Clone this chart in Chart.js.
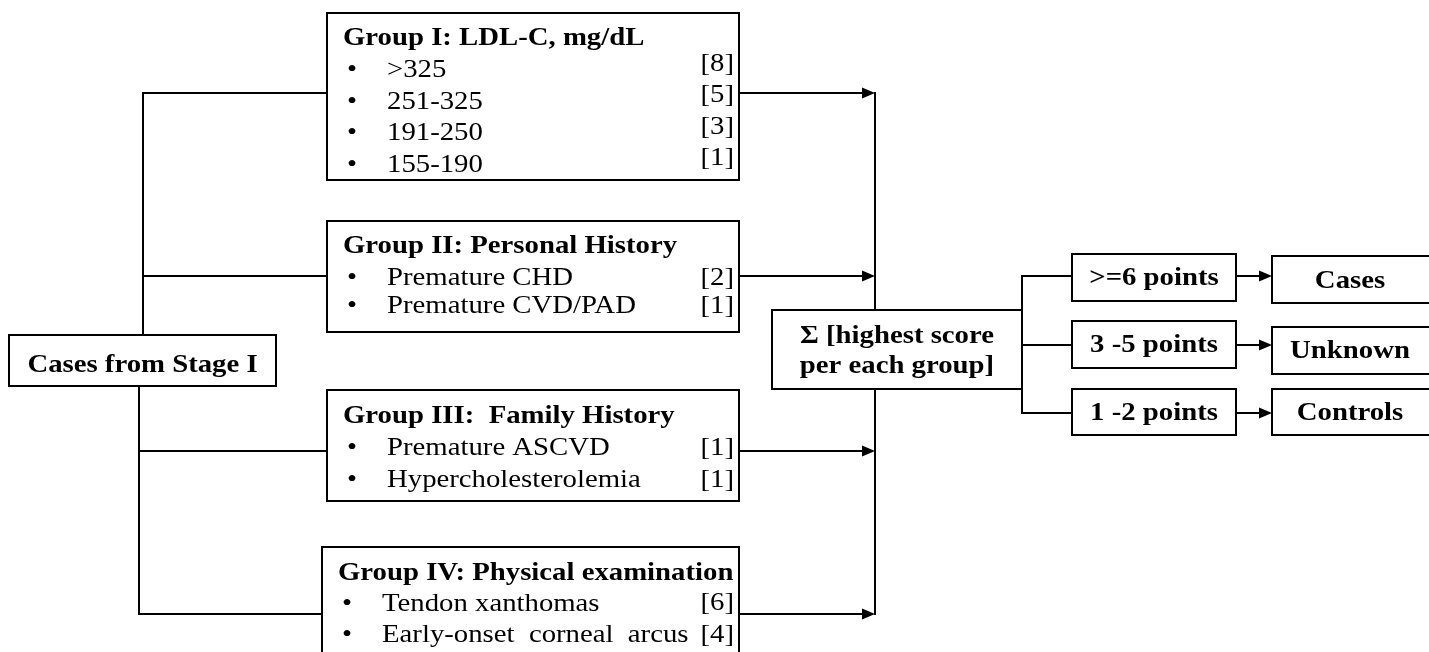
<!DOCTYPE html>
<html>
<head>
<meta charset="utf-8">
<script src="https://cdn.jsdelivr.net/npm/chart.js@4.4.1/dist/chart.umd.min.js"></script>
<style>
  html, body { margin: 0; padding: 0; background: #fff; }
  #wrap { width: 1429px; height: 652px; position: relative; }
</style>
</head>
<body>
<div id="wrap"><canvas id="flow"></canvas></div>
<script>
// ── Scoring flow: Stage I cases -> grouped criteria -> point sum -> outcome ──

// Content
var startLabel   = 'Cases from Stage I';
var groupTitles  = ['Group I: LDL-C, mg/dL', 'Group II: Personal History', 'Group III:  Family History', 'Group IV: Physical examination'];
var groupItems   = [
    ['>325', '251-325', '191-250', '155-190'],
    ['Premature CHD', 'Premature CVD/PAD'],
    ['Premature ASCVD', 'Hypercholesterolemia'],
    ['Tendon xanthomas', 'Early-onset  corneal  arcus']
];
var groupScores  = [[8, 5, 3, 1], [2, 1], [1, 1], [6, 4]];
var sumLines     = ['\u03A3 [highest score', 'per each group]'];
var pointRanges  = ['>=6 points', '3 -5 points', '1 -2 points'];
var outcomes     = ['Cases', 'Unknown', 'Controls'];

(function () {
    var canvas = document.getElementById('flow');

    // Layout in axis units (axes span the page 1:1, y downward; text y = baseline)
    var W = 1429, H = 652;
    var groupBox = [
        { l: 327, t: 13,  r: 739, b: 180, title: 45,  rows: [77, 109, 140, 172], scores: [71, 102, 134, 165], link: 93 },
        { l: 327, t: 221, r: 739, b: 332, title: 253, rows: [285, 313],          scores: [285, 313],          link: 276 },
        { l: 327, t: 390, r: 739, b: 501, title: 423, rows: [455, 487],          scores: [455, 487],          link: 451 },
        { l: 322, t: 547, r: 739, b: 670, title: 580, rows: [611, 642],          scores: [610, 642],          link: 614 }
    ];
    var startBox = { l: 9, t: 335, r: 276, b: 386, base: 372 };
    var sumBox   = { l: 772, t: 310, r: 1022, b: 389, base: [343, 373] };
    var rangeBox = [
        { l: 1072, t: 254, r: 1236, b: 301, base: 285 },
        { l: 1072, t: 321, r: 1236, b: 368, base: 352 },
        { l: 1072, t: 389, r: 1236, b: 435, base: 420 }
    ];
    var outBox = [
        { l: 1272, t: 256, r: 1440, b: 303, base: 288 },
        { l: 1272, t: 327, r: 1440, b: 374, base: 358 },
        { l: 1272, t: 389, r: 1440, b: 435, base: 420 }
    ];
    var splitY = [276, 345, 413];
    var trunkL = [143, 139], trunkR = 875;

    var SERIF   = '"Liberation Serif", "Times New Roman", serif';
    var SIZE    = 25;
    var STRETCH = 1.15;   // reference type is a little wide

    var flowPlugin = {
        id: 'flow',
        afterDatasetsDraw: function (chart) {
            var ctx = chart.ctx;
            var sx = chart.scales.x, sy = chart.scales.y;
            function X(v) { return sx.getPixelForValue(v); }
            function Y(v) { return sy.getPixelForValue(v); }

            ctx.save();
            ctx.strokeStyle = '#000';
            ctx.fillStyle   = '#000';
            ctx.lineWidth   = 2;
            ctx.lineCap     = 'square';

            function line(x0, y0, x1, y1) {
                ctx.beginPath();
                ctx.moveTo(X(x0), Y(y0));
                ctx.lineTo(X(x1), Y(y1));
                ctx.stroke();
            }
            function arrow(x0, x1, y) {
                line(x0, y, x1 - 10, y);
                ctx.beginPath();
                ctx.moveTo(X(x1), Y(y));
                ctx.lineTo(X(x1 - 13), Y(y) - 5.5);
                ctx.lineTo(X(x1 - 13), Y(y) + 5.5);
                ctx.closePath();
                ctx.fill();
            }
            function box(b) {
                ctx.fillStyle = '#fff';
                ctx.fillRect(X(b.l), Y(b.t), X(b.r) - X(b.l), Y(b.b) - Y(b.t));
                ctx.fillStyle = '#000';
                ctx.strokeRect(X(b.l), Y(b.t), X(b.r) - X(b.l), Y(b.b) - Y(b.t));
            }
            function text(s, x, y, opts) {
                ctx.save();
                ctx.font = (opts.bold ? 'bold ' : '') + SIZE + 'px ' + SERIF;
                ctx.textBaseline = 'alphabetic';
                ctx.textAlign = opts.align || 'left';
                ctx.translate(X(x), Y(y));
                ctx.scale(STRETCH, 1);
                ctx.fillText(s, 0, 0);
                ctx.restore();
            }
            function mid(b) { return (b.l + b.r) / 2; }

            // left trunk and branches
            line(trunkL[0], groupBox[0].link, trunkL[0], startBox.t);
            line(trunkL[1], startBox.b, trunkL[1], groupBox[3].link);
            groupBox.forEach(function (g, i) {
                var x0 = i < 2 ? trunkL[0] : trunkL[1];
                line(x0, g.link, g.l, g.link);
            });

            // right trunk and arrows into it
            line(trunkR, groupBox[0].link, trunkR, sumBox.t);
            line(trunkR, sumBox.b, trunkR, groupBox[3].link);
            groupBox.forEach(function (g) { arrow(g.r, trunkR, g.link); });

            // split after the sum
            line(sumBox.r, splitY[0], sumBox.r, splitY[2]);
            splitY.forEach(function (y, i) {
                line(sumBox.r, y, rangeBox[i].l, y);
                arrow(rangeBox[i].r, outBox[i].l, y);
            });

            // boxes and their text
            box(startBox);
            text(startLabel, mid(startBox), startBox.base, { bold: true, align: 'center' });

            groupBox.forEach(function (g, i) {
                box(g);
                text(groupTitles[i], g.l + 16, g.title, { bold: true });
                groupItems[i].forEach(function (item, j) {
                    text('\u2022', g.l + 20, g.rows[j], {});
                    text(item, g.l + 60, g.rows[j], {});
                    text('[' + groupScores[i][j] + ']', g.r - 5, g.scores[j], { align: 'right' });
                });
            });

            box(sumBox);
            sumLines.forEach(function (s, i) {
                text(s, mid(sumBox), sumBox.base[i], { bold: true, align: 'center' });
            });

            rangeBox.forEach(function (b, i) {
                box(b);
                text(pointRanges[i], mid(b), b.base, { bold: true, align: 'center' });
            });
            outBox.forEach(function (b, i) {
                box(b);
                text(outcomes[i], 1350, b.base, { bold: true, align: 'center' });
            });

            ctx.restore();
        }
    };

    /* global Chart */
    new Chart(canvas, {
        type: 'scatter',
        data: { datasets: [{ data: [], pointRadius: 0 }] },
        options: {
            responsive: true,
            maintainAspectRatio: false,
            animation: false,
            layout: { padding: 0 },
            plugins: { legend: { display: false }, tooltip: { enabled: false } },
            scales: {
                x: { type: 'linear', min: 0, max: W, display: false },
                y: { type: 'linear', min: 0, max: H, reverse: true, display: false }
            }
        },
        plugins: [flowPlugin]
    });
}());
</script>
</body>
</html>
